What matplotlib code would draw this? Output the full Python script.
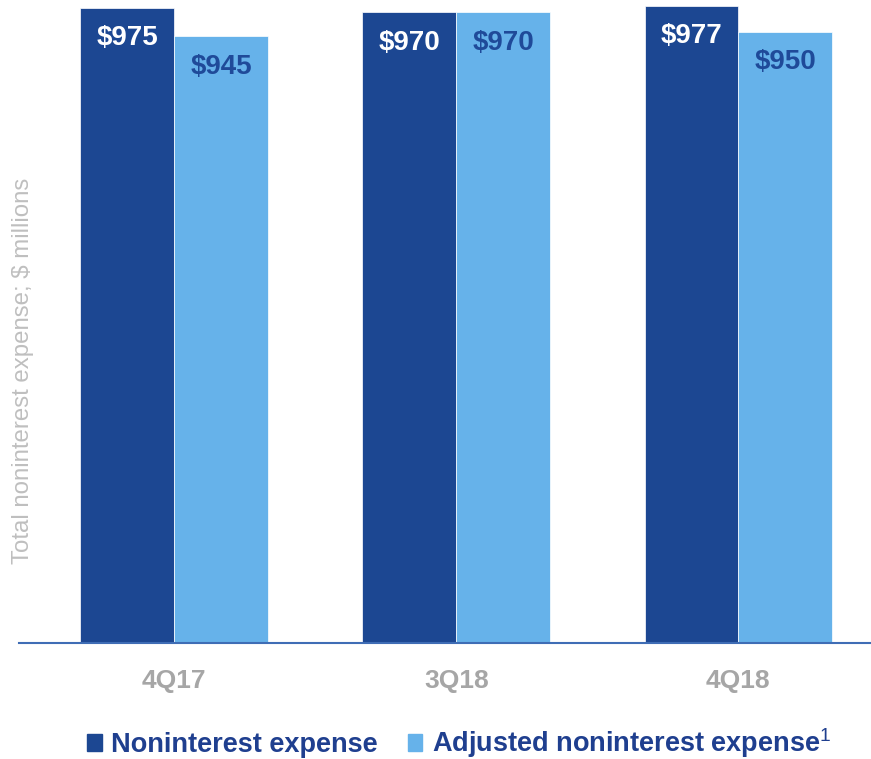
import matplotlib.pyplot as plt
from matplotlib.patches import Patch
import numpy as np

plt.rcParams['font.family'] = ['Liberation Sans', 'DejaVu Sans']
plt.rcParams['mathtext.fontset'] = 'custom'
plt.rcParams['mathtext.rm'] = 'Liberation Sans'
plt.rcParams['mathtext.bf'] = 'Liberation Sans:bold'

quarters = ['4Q17', '3Q18', '4Q18']
nonint = [975, 970, 977]
adj_nonint = [945, 970, 950]

dark = '#1C4792'
light = '#66B2EA'
gray = '#A6A6A6'

fig = plt.figure(figsize=(8.71, 7.59), dpi=100)
ax = fig.add_axes([0.022, 0.153, 0.978, 0.847])

x = np.arange(len(quarters))
w = 0.333
b1 = ax.bar(x - w/2, nonint, w, color=dark, edgecolor='white', linewidth=0.5)
b2 = ax.bar(x + w/2, adj_nonint, w, color=light, edgecolor='white', linewidth=0.5)

for rect, v in zip(b1, nonint):
    ax.annotate(f'${v}', (rect.get_x() + rect.get_width()/2, v), xytext=(0, -22),
                textcoords='offset points', ha='center', va='center',
                color='white', fontsize=20, fontweight='bold')
for rect, v in zip(b2, adj_nonint):
    ax.annotate(f'${v}', (rect.get_x() + rect.get_width()/2, v), xytext=(0, -22),
                textcoords='offset points', ha='center', va='center',
                color='#1F4A99', fontsize=20, fontweight='bold')

ax.set_ylim(313, 983)
ax.set_xlim(-0.55, 2.47)
ax.set_xticks(x)
ax.set_xticklabels(quarters, fontsize=19, fontweight='bold', color=gray)
ax.tick_params(axis='x', length=0, pad=18.5)
ax.set_yticks([])
for s in ['top', 'right', 'left']:
    ax.spines[s].set_visible(False)
ax.spines['bottom'].set_color('#3F6DB5')
ax.spines['bottom'].set_linewidth(1.5)

fig.text(0.026, 0.512, 'Total noninterest expense; $ millions', rotation=90,
         ha='center', va='center', fontsize=17.3, color='#BFBFBF')

handles = [Patch(color=dark), Patch(color=light)]
labels = ['Noninterest expense', 'Adjusted noninterest expense$^1$']
leg = fig.legend(handles, labels, loc='center', bbox_to_anchor=(0.527, 0.021), ncol=2,
                 frameon=False, handlelength=0.55, handleheight=0.6, handletextpad=0.35,
                 columnspacing=1.1, prop={'size': 19.5, 'weight': 'bold'})
for t in leg.get_texts():
    t.set_color('#1F3F8F')

fig.savefig('out.png', dpi=100)
